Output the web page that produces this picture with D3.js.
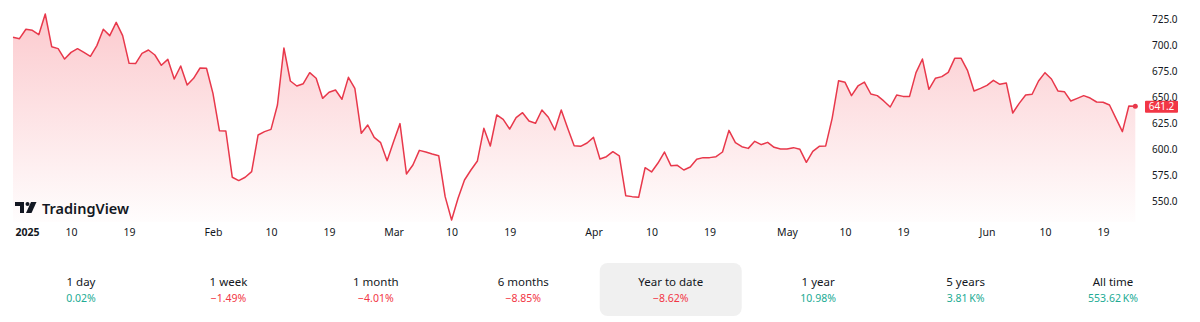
<!DOCTYPE html>
<html>
<head>
<meta charset="utf-8">
<script src="https://cdn.jsdelivr.net/npm/d3@7"></script>
<style>
  html, body { margin: 0; padding: 0; background: #fff; }
  svg { display: block; font-family: "Noto Sans", "Open Sans", sans-serif; }
</style>
</head>
<body>
<svg id="chart" width="1200" height="322"></svg>
<script>
// Daily closes, 1 Jan 2025 .. 24 Jun 2025
const startDate = new Date(Date.UTC(2025, 0, 1));
const closes = [
  707.4, 706.1, 715.1, 714.1, 709.9, 729.8, 698.4, 696.5, 686.5, 692.9,
  696.5, 692.9, 689.1, 699.4, 715.1, 709.0, 721.8, 709.0, 682.4, 682.1,
  692.0, 695.2, 690.4, 680.5, 686.2, 667.3, 679.8, 661.5, 668.0, 677.9,
  677.6, 653.5, 617.6, 617.3, 572.8, 569.6, 572.8, 578.2, 613.5, 616.7,
  618.9, 642.3, 697.1, 665.4, 660.6, 662.8, 673.4, 668.0, 648.7, 654.5,
  656.7, 647.8, 668.9, 658.3, 615.1, 623.1, 611.2, 606.1, 588.8, 607.0,
  624.4, 576.0, 584.6, 598.7, 597.1, 595.2, 593.6, 554.2, 531.7, 552.6,
  570.2, 579.8, 588.5, 619.9, 602.9, 632.7, 628.5, 619.2, 630.1, 634.9,
  626.9, 624.7, 637.5, 630.5, 618.3, 637.5, 620.0, 603.2, 602.6, 605.8,
  611.2, 590.4, 592.6, 597.4, 593.3, 555.1, 554.2, 553.5, 582.0, 577.9,
  586.5, 597.1, 584.0, 584.3, 579.8, 582.7, 590.1, 591.7, 591.7, 592.6,
  597.1, 617.9, 606.1, 602.2, 600.6, 607.4, 604.2, 606.4, 601.6, 600.0,
  600.0, 601.3, 599.7, 587.2, 597.8, 602.6, 603.0, 629.5, 665.7, 664.1,
  651.3, 660.6, 664.4, 652.9, 651.3, 646.2, 640.4, 651.9, 650.6, 650.6,
  673.4, 686.5, 657.4, 668.0, 669.6, 673.7, 687.2, 687.2, 675.3, 655.8,
  658.3, 661.2, 666.0, 662.2, 663.5, 634.6, 643.9, 651.9, 652.6, 665.4,
  673.4, 667.3, 655.8, 655.1, 646.2, 648.7, 651.3, 649.0, 645.2, 644.9,
  642.3, 629.5, 616.7, 641.3, 641.2
];
const lastPrice = 641.2;

const yTicks = [550, 575, 600, 625, 650, 675, 700, 725];
const xTickDates = [
  [0, 1], [0, 10], [0, 19], [1, 1], [1, 10], [1, 19], [2, 1], [2, 10], [2, 19],
  [3, 1], [3, 10], [3, 19], [4, 1], [4, 10], [4, 19], [5, 1], [5, 10], [5, 19]
].map(([m, d]) => new Date(Date.UTC(2025, m, d)));

const periodLabels = ['1 day', '1 week', '1 month', '6 months', 'Year to date', '1 year', '5 years', 'All time'];
const periodValues = ['0.02%', '\u22121.49%', '\u22124.01%', '\u22128.85%', '\u22128.62%', '10.98%', '3.81\u202FK%', '553.62\u202FK%'];
const periodUp = [true, false, false, false, false, true, true, true];
const selectedPeriod = 4;

const RED = '#f23645';
const LINE_RED = '#e8384b';
const GREEN = '#22ab94';
const TEXT = '#131722';
const PANE_BOTTOM = 222;

const data = closes.map((v, i) => ({ date: d3.utcDay.offset(startDate, i), value: v }));

const svg = d3.select('#chart');

const x = d3.scaleUtc()
    .domain([startDate, data[data.length - 1].date])
    .range([13, 13 + 6.45 * (data.length - 1)]);

const y = d3.scaleLinear()
    .domain([550, 725])
    .range([201, 19]);

// gradient under the line
const defs = svg.append('defs');
const grad = defs.append('linearGradient')
    .attr('id', 'areaFill')
    .attr('gradientUnits', 'userSpaceOnUse')
    .attr('x1', 0).attr('x2', 0)
    .attr('y1', 0).attr('y2', PANE_BOTTOM);
grad.append('stop').attr('offset', 0).attr('stop-color', RED).attr('stop-opacity', 0.28);
grad.append('stop').attr('offset', 1).attr('stop-color', RED).attr('stop-opacity', 0.01);

const area = d3.area()
    .x((d) => x(d.date))
    .y0(PANE_BOTTOM)
    .y1((d) => y(d.value));

const line = d3.line()
    .x((d) => x(d.date))
    .y((d) => y(d.value));

svg.append('path')
    .datum(data)
    .attr('d', area)
    .attr('fill', 'url(#areaFill)');

svg.append('path')
    .datum(data)
    .attr('d', line)
    .attr('fill', 'none')
    .attr('stroke', LINE_RED)
    .attr('stroke-width', 1.5)
    .attr('stroke-linejoin', 'round');

const last = data[data.length - 1];
svg.append('circle')
    .attr('cx', x(last.date))
    .attr('cy', y(last.value))
    .attr('r', 2.5)
    .attr('fill', LINE_RED);

// TradingView watermark
const logo = svg.append('g').attr('transform', 'translate(15,202)');
logo.append('path')
    .attr('d', 'M0,0 H9 V11 H5 V4 H0 Z')
    .attr('fill', TEXT);
logo.append('circle').attr('cx', 12.5).attr('cy', 2).attr('r', 2).attr('fill', TEXT);
logo.append('path')
    .attr('d', 'M16,0 H21.5 L16.5,11 H11 Z')
    .attr('fill', TEXT);
logo.append('text')
    .attr('x', 27)
    .attr('y', 11.5)
    .attr('font-size', 14.5)
    .attr('font-weight', 600)
    .attr('fill', TEXT)
    .text('TradingView');

// y axis on the right
const yAxis = svg.append('g')
    .attr('transform', 'translate(1148,0)')
    .call(d3.axisRight(y).tickValues(yTicks).tickFormat(d3.format('.1f')).tickSize(0).tickPadding(4));
yAxis.select('.domain').remove();
yAxis.selectAll('text')
    .attr('fill', TEXT)
    .attr('font-size', 10)
    .attr('font-family', '"Noto Sans", sans-serif');

// last price tag
const tagY = y(lastPrice);
svg.append('rect')
    .attr('x', 1145).attr('y', tagY - 5.5)
    .attr('width', 33).attr('height', 12)
    .attr('rx', 1)
    .attr('fill', RED);
svg.append('text')
    .attr('x', 1161.5).attr('y', tagY + 0.8)
    .attr('text-anchor', 'middle')
    .attr('dominant-baseline', 'middle')
    .attr('font-size', 10)
    .attr('fill', '#fff')
    .text(d3.format('.1f')(lastPrice));

// x axis
const monthFmt = d3.utcFormat('%b');
const xAxis = svg.append('g')
    .attr('transform', 'translate(0,229)')
    .call(d3.axisBottom(x)
        .tickValues(xTickDates)
        .tickSize(0)
        .tickPadding(0)
        .tickFormat((d) => {
            if (d.getUTCDate() !== 1) return d.getUTCDate();
            return d.getUTCMonth() === 0 ? d.getUTCFullYear() : monthFmt(d);
        }));
xAxis.select('.domain').remove();
xAxis.selectAll('text')
    .attr('fill', TEXT)
    .attr('font-size', 10.5)
    .attr('font-family', '"Noto Sans", sans-serif');
xAxis.selectAll('.tick')
    .filter((d) => d.getUTCMonth() === 0 && d.getUTCDate() === 1)
    .select('text')
    .attr('text-anchor', 'start')
    .attr('dx', 2)
    .attr('font-weight', 700);

// period tabs
const tabX = d3.scalePoint()
    .domain(periodLabels)
    .range([81, 1113]);

const tabs = svg.append('g')
    .selectAll('g')
    .data(periodLabels)
    .join('g')
    .attr('transform', (d) => `translate(${tabX(d)},0)`);

tabs.filter((d, i) => i === selectedPeriod)
    .append('rect')
    .attr('x', -71).attr('y', 263)
    .attr('width', 142).attr('height', 53)
    .attr('rx', 8)
    .attr('fill', '#f0f0f0');

tabs.append('text')
    .attr('y', 285.5)
    .attr('text-anchor', 'middle')
    .attr('font-size', 11.5)
    .attr('fill', TEXT)
    .text((d) => d);

tabs.append('text')
    .attr('y', 302)
    .attr('text-anchor', 'middle')
    .attr('font-size', 10.5)
    .attr('fill', (d, i) => (periodUp[i] ? GREEN : RED))
    .text((d, i) => periodValues[i]);
</script>
</body>
</html>
